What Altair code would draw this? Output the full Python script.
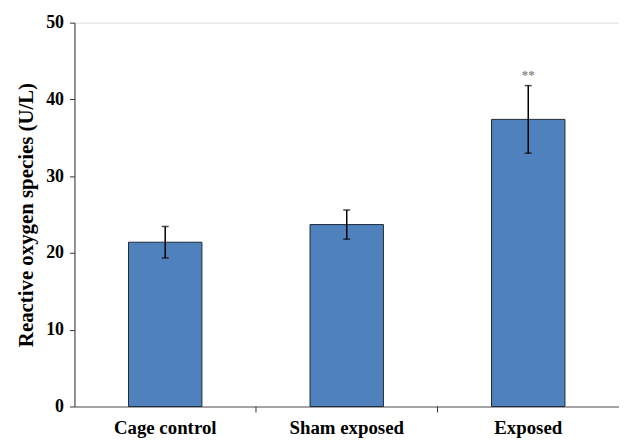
import altair as alt
import pandas as pd

categories = ["Cage control", "Sham exposed", "Exposed"]
means = [21.4, 23.7, 37.4]
errors = [2.05, 1.9, 4.4]
marks = ["", "", "**"]
y_ticks = [0, 10, 20, 30, 40, 50]
TITLE = "Reactive oxygen species (U/L)"

df = pd.DataFrame({
    "cat": categories,
    "mean": means,
    "lo": [m - e for m, e in zip(means, errors)],
    "hi": [m + e for m, e in zip(means, errors)],
    "mark": marks,
})

FONT = "Liberation Serif"
H = 387

x = alt.X("cat:N", sort=categories, title=None,
          scale=alt.Scale(paddingInner=0, paddingOuter=0),
          axis=alt.Axis(labelAngle=0, labelFont=FONT, labelFontSize=19,
                        labelFontWeight="bold", labelColor="black",
                        ticks=False, domainColor="#8a8a8a", domainWidth=1.5,
                        labelPadding=12))
y = alt.Y("mean:Q", title=TITLE,
          scale=alt.Scale(domain=[0, 50], nice=False),
          axis=alt.Axis(values=y_ticks, grid=False, labelFont=FONT,
                        labelFontSize=18, labelFontWeight="bold",
                        labelColor="black", titleFont=FONT, titleFontSize=21,
                        titleFontWeight="bold", titleColor="black",
                        tickColor="#333333", tickSize=5, domainColor="#333333",
                        labelPadding=6, titlePadding=9))

bars = alt.Chart(df).mark_bar(size=74, color="#4F81BD", stroke="#1f2a38",
                              strokeWidth=1).encode(x=x, y=y)

err = alt.Chart(df).mark_errorbar(ticks=alt.MarkConfig(size=7, color="black", strokeWidth=1.5),
                                  color="black", thickness=1.5).encode(
    x=alt.X("cat:N", sort=categories),
    y=alt.Y("lo:Q", title=TITLE),
    y2="hi:Q",
)

stars = alt.Chart(df).mark_text(font=FONT, fontSize=13, color="#888888",
                                fontWeight="bold", dy=-4, baseline="bottom").encode(
    x=alt.X("cat:N", sort=categories),
    y=alt.Y("hi:Q", title=TITLE),
    text="mark:N",
)

sep = alt.Chart(pd.DataFrame({"cat": categories[1:]})).mark_rule(
    color="#333333", strokeWidth=1).encode(
    x=alt.X("cat:N", sort=categories, bandPosition=0),
    y=alt.value(H),
    y2=alt.value(H + 6),
)

chart = alt.layer(bars, err, stars, sep).properties(
    width=549, height=H,
    padding={"left": 8, "top": 4, "right": 0, "bottom": 0},
).configure_view(stroke=None).configure(background="white")

chart.save("out.html", embed_options={"renderer": "svg", "actions": False})
